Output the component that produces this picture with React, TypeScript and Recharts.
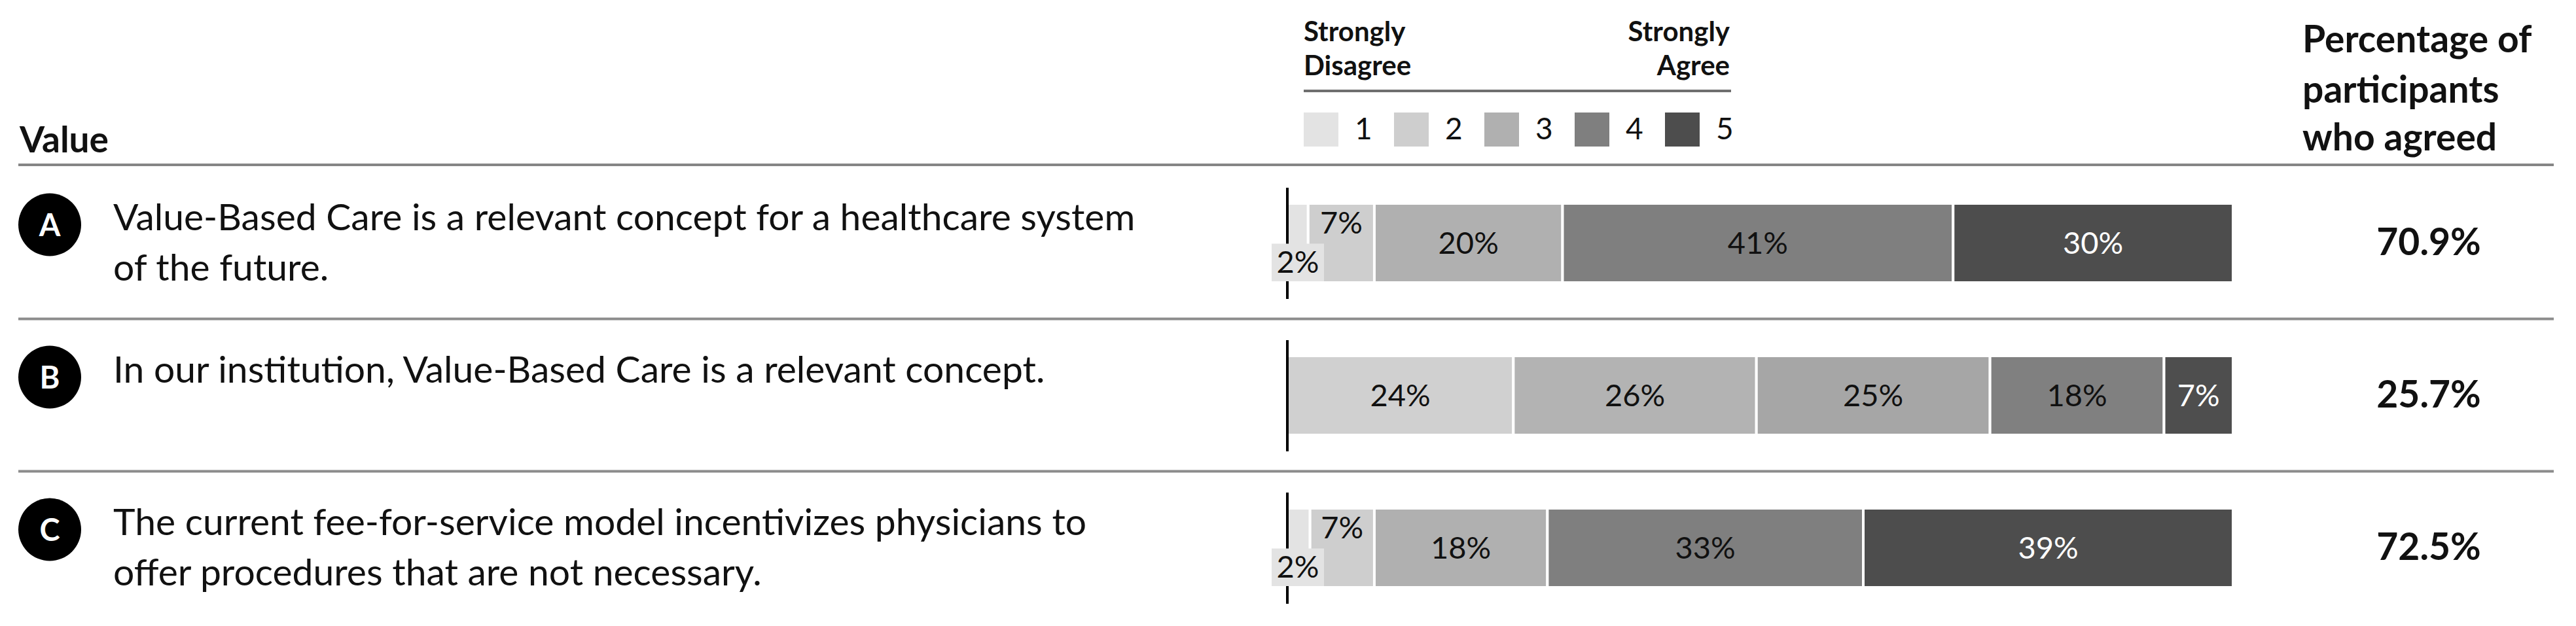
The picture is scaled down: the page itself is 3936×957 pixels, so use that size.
import { BarChart, Bar, XAxis, YAxis, LabelList, Cell, Legend } from 'recharts';

const ROW_IDS = ['A', 'B', 'C'];
const STATEMENTS = [
  ['Value-Based Care is a relevant concept for a healthcare system', 'of the future.'],
  ['In our institution, Value-Based Care is a relevant concept.'],
  ['The current fee-for-service model incentivizes physicians to', 'offer procedures that are not necessary.'],
];
const AGREED = ['70.9%', '25.7%', '72.5%'];

const LEVELS = ['1', '2', '3', '4', '5'];
// share of answers per likert level, one entry per statement (A, B, C)
const LEVEL_1 = [2.2, 23.9, 2.4];
const LEVEL_2 = [7.0, 25.7, 6.8];
const LEVEL_3 = [19.9, 24.7, 18.3];
const LEVEL_4 = [41.3, 18.4, 33.4];
const LEVEL_5 = [29.6, 7.3, 39.1];

const LEVEL_COLORS = ['#e3e3e3', '#cecece', '#b0b0b0', '#7f7f7f', '#4d4d4d'];
// statement B is shaded a step lighter in the source figure
const ROW_B_COLORS = ['#d0d0d0', '#b3b3b3', '#a6a6a6', '#808080', '#4e4e4e'];

const SERIES = [LEVEL_1, LEVEL_2, LEVEL_3, LEVEL_4, LEVEL_5];
const KEYS = ['l1', 'l2', 'l3', 'l4', 'l5'];

const data = ROW_IDS.map((id, i) => ({
  id,
  agreed: AGREED[i],
  l1: LEVEL_1[i],
  l2: LEVEL_2[i],
  l3: LEVEL_3[i],
  l4: LEVEL_4[i],
  l5: LEVEL_5[i],
}));

const FONT = 'Lato, "Open Sans", sans-serif';
const W = 3936;
const H = 957;
const PLOT_LEFT = 1967;
const RIGHT_COL = 524;

const colorFor = (row: number, level: number) =>
  row === 1 ? ROW_B_COLORS[level] : LEVEL_COLORS[level];

const makeLabel = (level: number) => (props: any) => {
  const vb = props.viewBox && props.viewBox.width !== undefined ? props.viewBox : props;
  const { x, y, width, height } = vb;
  const row = props.index;
  const value = Number(props.value);
  const cy = y + height / 2;
  const txt = `${Math.round(value)}%`;
  const fill = level === 4 ? '#fff' : '#111';
  const firstSmall = LEVEL_1[row] < 5;

  if (level === 0) {
    return (
      <g>
        <line x1={x} x2={x} y1={y - 24} y2={y + height + 25} stroke="#000" strokeWidth={4} />
        {firstSmall ? (
          <g>
            <rect x={x - 24} y={cy + 1} width={80} height={y + height - 2 - (cy + 1)} fill={colorFor(row, 0)} />
            <text x={x + 16} y={y + height - 15} textAnchor="middle" fontSize={47} fill="#111" fontFamily={FONT}>
              {txt}
            </text>
          </g>
        ) : (
          <text x={x + width / 2} y={cy + 16} textAnchor="middle" fontSize={47} fill={fill} fontFamily={FONT}>
            {txt}
          </text>
        )}
      </g>
    );
  }
  const ty = level === 1 && firstSmall ? cy - 15 : cy + 16;
  return (
    <text x={x + width / 2} y={ty} textAnchor="middle" fontSize={47} fill={fill} fontFamily={FONT}>
      {txt}
    </text>
  );
};

const StatementTick = (props: any) => {
  const { y, payload } = props;
  const i = ROW_IDS.indexOf(payload.value);
  return (
    <g fontFamily={FONT}>
      <circle cx={76} cy={y - 28} r={48} fill="#000" />
      <text x={76} y={y - 28 + 17} textAnchor="middle" fill="#fff" fontWeight={700} fontSize={47}>
        {payload.value}
      </text>
      {STATEMENTS[i].map((line, k) => (
        <text key={k} x={173} y={y - 20 + k * 77} fontSize={57} fill="#111">
          {line}
        </text>
      ))}
      {i < ROW_IDS.length - 1 && (
        <line x1={28} x2={3902} y1={y + 116} y2={y + 116} stroke="#8c8c8c" strokeWidth={4} />
      )}
    </g>
  );
};

const AgreedTick = (props: any) => {
  const { y, payload } = props;
  return (
    <text x={3711} y={y + 18} textAnchor="middle" fontSize={57} fontWeight={700} fill="#111" fontFamily={FONT}>
      {payload.value}
    </text>
  );
};

const HeaderLegend = (props: any) => {
  const items = props.payload || [];
  return (
    <svg width={W} height={256} style={{ display: 'block' }} fontFamily={FONT}>
      <text x={30} y={233} fontSize={55} fontWeight={700} fill="#111">Value</text>
      <line x1={28} x2={3902} y1={252} y2={252} stroke="#858585" strokeWidth={4} />

      <text x={1992} y={63} fontSize={42} fontWeight={700} fill="#111">Strongly</text>
      <text x={1992} y={115} fontSize={42} fontWeight={700} fill="#111">Disagree</text>
      <text x={2643} y={63} fontSize={42} fontWeight={700} fill="#111" textAnchor="end">Strongly</text>
      <text x={2643} y={115} fontSize={42} fontWeight={700} fill="#111" textAnchor="end">Agree</text>
      <line x1={1992} x2={2645} y1={139} y2={139} stroke="#6f6f6f" strokeWidth={4} />
      {items.map((p: any, k: number) => (
        <g key={k}>
          <rect x={1992 + k * 138} y={172} width={53} height={52} fill={p.color} />
          <text x={1992 + k * 138 + 78} y={213} fontSize={46} fill="#111">{p.value}</text>
        </g>
      ))}

      <text x={3518} y={80} fontSize={57} fontWeight={700} fill="#111">Percentage of</text>
      <text x={3518} y={157} fontSize={57} fontWeight={700} fill="#111">participants</text>
      <text x={3518} y={230} fontSize={57} fontWeight={700} fill="#111">who agreed</text>
    </svg>
  );
};

export default function App() {
  return (
    <div style={{ position: 'absolute', left: 0, top: 0, width: W, height: H, background: '#fff' }}>
      <BarChart
        width={W}
        height={H}
        data={data}
        layout="vertical"
        margin={{ top: 255, right: 0, bottom: 3, left: 0 }}
        barSize={121}
      >
        <XAxis type="number" domain={[0, 100]} hide />
        <YAxis
          type="category"
          dataKey="id"
          width={PLOT_LEFT}
          axisLine={false}
          tickLine={false}
          tick={<StatementTick />}
        />
        <YAxis
          yAxisId="right"
          orientation="right"
          type="category"
          dataKey="agreed"
          width={RIGHT_COL}
          axisLine={false}
          tickLine={false}
          tick={<AgreedTick />}
        />
        <Legend
          layout="horizontal"
          verticalAlign="middle"
          content={<HeaderLegend />}
          wrapperStyle={{ position: 'absolute', left: 0, top: 0, width: W, height: 256 }}
        />
        {KEYS.map((key, level) => (
          <Bar
            key={key}
            dataKey={key}
            name={LEVELS[level]}
            stackId="likert"
            fill={LEVEL_COLORS[level]}
            stroke="#fff"
            strokeWidth={4}
            isAnimationActive={false}
          >
            {SERIES[level].map((_, row) => (
              <Cell key={row} fill={colorFor(row, level)} />
            ))}
            <LabelList dataKey={key} content={makeLabel(level)} />
          </Bar>
        ))}
      </BarChart>
    </div>
  );
}
